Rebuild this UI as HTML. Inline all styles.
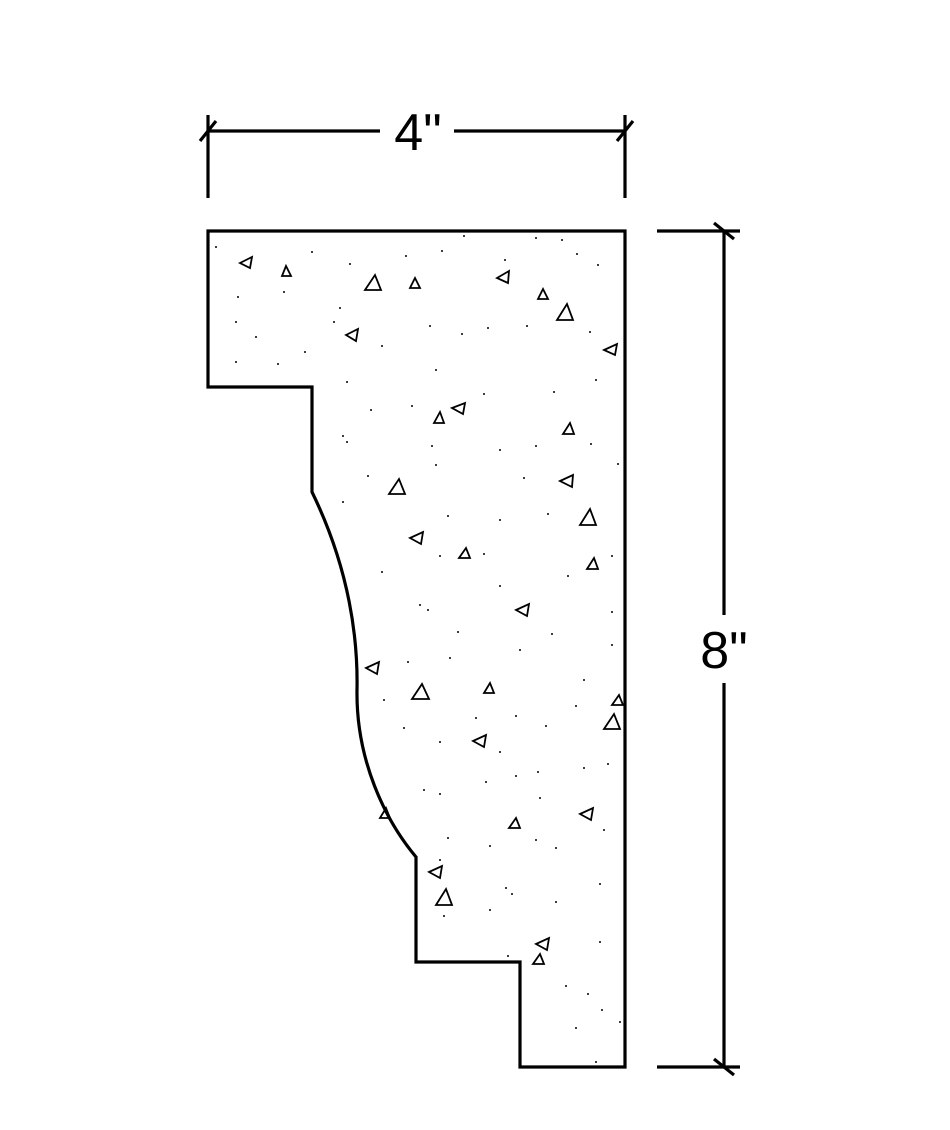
<!DOCTYPE html>
<html><head><meta charset="utf-8"><style>
html,body{margin:0;padding:0;background:#fff;}
svg{display:block}
</style></head><body>
<svg width="950" height="1130" viewBox="0 0 950 1130" xmlns="http://www.w3.org/2000/svg">
<g fill="none" stroke="#000" stroke-width="3.2" stroke-linejoin="miter">
<path d="M208,231 L625,231 L625,1067 L520,1067 L520,962 L416,962 L416,857 C385,820 356,760 357,690 C358,640 350,570 312,492 L312,387 L208,387 Z"/>
</g>
<g fill="none" stroke="#000" stroke-width="3.2">
<line x1="208" y1="131" x2="380" y2="131"/>
<line x1="454" y1="131" x2="625" y2="131"/>
<line x1="208" y1="115" x2="208" y2="198"/>
<line x1="625" y1="115" x2="625" y2="198"/>
<line x1="200" y1="141" x2="216" y2="121"/>
<line x1="617" y1="141" x2="633" y2="121"/>
<line x1="724" y1="231" x2="724" y2="615"/>
<line x1="724" y1="683" x2="724" y2="1067"/>
<line x1="657" y1="231" x2="740" y2="231"/>
<line x1="657" y1="1067" x2="740" y2="1067"/>
<line x1="714" y1="223" x2="734" y2="239"/>
<line x1="714" y1="1059" x2="734" y2="1075"/>
</g>
<text x="418" y="150" font-family="Liberation Sans, sans-serif" font-size="52" font-weight="300" text-anchor="middle">4"</text>
<text x="724" y="668" font-family="Liberation Sans, sans-serif" font-size="52" font-weight="300" text-anchor="middle">8"</text>
<g fill="none" stroke="#000" stroke-width="1.8" stroke-linejoin="miter">
<path d="M240,263 l12,-6 l-2,11 z"/>
<path d="M282,276 l9,0 l-5,-10 z"/>
<path d="M365,290 l16,0 l-6,-15 z"/>
<path d="M410,288 l10,0 l-5,-10 z"/>
<path d="M497,278 l12,-7 l-1,12 z"/>
<path d="M538,299 l10,0 l-5,-10 z"/>
<path d="M557,320 l16,0 l-6,-16 z"/>
<path d="M604,350 l13,-6 l-2,11 z"/>
<path d="M346,335 l12,-6 l-2,12 z"/>
<path d="M434,423 l10,0 l-4,-11 z"/>
<path d="M452,408 l13,-5 l-2,11 z"/>
<path d="M563,434 l11,0 l-4,-11 z"/>
<path d="M389,494 l16,0 l-6,-15 z"/>
<path d="M560,481 l13,-6 l-1,12 z"/>
<path d="M580,525 l16,0 l-6,-16 z"/>
<path d="M410,538 l13,-6 l-2,12 z"/>
<path d="M459,558 l11,0 l-4,-10 z"/>
<path d="M587,569 l11,0 l-4,-11 z"/>
<path d="M516,610 l13,-6 l-2,12 z"/>
<path d="M366,668 l13,-6 l-2,12 z"/>
<path d="M412,699 l17,0 l-7,-15 z"/>
<path d="M484,693 l10,0 l-4,-10 z"/>
<path d="M604,729 l16,0 l-6,-15 z"/>
<path d="M612,705 l11,0 l-4,-10 z"/>
<path d="M473,741 l13,-6 l-2,12 z"/>
<path d="M509,828 l11,0 l-4,-10 z"/>
<path d="M580,814 l13,-6 l-2,12 z"/>
<path d="M429,872 l13,-6 l-2,12 z"/>
<path d="M436,905 l16,0 l-6,-16 z"/>
<path d="M536,944 l13,-6 l-2,12 z"/>
<path d="M533,964 l11,0 l-4,-10 z"/>
<path d="M380,818 l10,0 l-4,-10 z"/>
</g>
<g fill="#000">
<circle cx="216" cy="247" r="1"/><circle cx="238" cy="297" r="1"/><circle cx="236" cy="322" r="1"/><circle cx="256" cy="337" r="1"/><circle cx="236" cy="362" r="1"/><circle cx="278" cy="364" r="1"/><circle cx="305" cy="352" r="1"/><circle cx="284" cy="292" r="1"/><circle cx="312" cy="252" r="1"/><circle cx="350" cy="264" r="1"/><circle cx="406" cy="256" r="1"/><circle cx="442" cy="251" r="1"/><circle cx="464" cy="236" r="1"/><circle cx="505" cy="260" r="1"/><circle cx="536" cy="238" r="1"/><circle cx="562" cy="240" r="1"/><circle cx="577" cy="254" r="1"/><circle cx="598" cy="265" r="1"/><circle cx="340" cy="308" r="1"/><circle cx="334" cy="322" r="1"/><circle cx="382" cy="346" r="1"/><circle cx="430" cy="326" r="1"/><circle cx="462" cy="334" r="1"/><circle cx="488" cy="328" r="1"/><circle cx="527" cy="326" r="1"/><circle cx="590" cy="332" r="1"/><circle cx="347" cy="382" r="1"/><circle cx="436" cy="370" r="1"/><circle cx="371" cy="410" r="1"/><circle cx="412" cy="406" r="1"/><circle cx="484" cy="394" r="1"/><circle cx="554" cy="392" r="1"/><circle cx="596" cy="380" r="1"/><circle cx="343" cy="436" r="1"/><circle cx="347" cy="442" r="1"/><circle cx="432" cy="446" r="1"/><circle cx="500" cy="450" r="1"/><circle cx="536" cy="446" r="1"/><circle cx="591" cy="444" r="1"/><circle cx="618" cy="464" r="1"/><circle cx="436" cy="465" r="1"/><circle cx="368" cy="476" r="1"/><circle cx="524" cy="478" r="1"/><circle cx="548" cy="514" r="1"/><circle cx="343" cy="502" r="1"/><circle cx="448" cy="516" r="1"/><circle cx="500" cy="520" r="1"/><circle cx="382" cy="572" r="1"/><circle cx="440" cy="556" r="1"/><circle cx="484" cy="554" r="1"/><circle cx="568" cy="576" r="1"/><circle cx="612" cy="556" r="1"/><circle cx="500" cy="586" r="1"/><circle cx="420" cy="605" r="1"/><circle cx="428" cy="610" r="1"/><circle cx="458" cy="632" r="1"/><circle cx="520" cy="650" r="1"/><circle cx="552" cy="634" r="1"/><circle cx="612" cy="612" r="1"/><circle cx="612" cy="645" r="1"/><circle cx="408" cy="662" r="1"/><circle cx="450" cy="658" r="1"/><circle cx="584" cy="680" r="1"/><circle cx="384" cy="700" r="1"/><circle cx="476" cy="718" r="1"/><circle cx="516" cy="716" r="1"/><circle cx="546" cy="726" r="1"/><circle cx="576" cy="706" r="1"/><circle cx="404" cy="728" r="1"/><circle cx="440" cy="742" r="1"/><circle cx="500" cy="752" r="1"/><circle cx="584" cy="768" r="1"/><circle cx="608" cy="764" r="1"/><circle cx="486" cy="782" r="1"/><circle cx="516" cy="776" r="1"/><circle cx="538" cy="772" r="1"/><circle cx="424" cy="790" r="1"/><circle cx="440" cy="794" r="1"/><circle cx="540" cy="798" r="1"/><circle cx="604" cy="830" r="1"/><circle cx="448" cy="838" r="1"/><circle cx="490" cy="846" r="1"/><circle cx="536" cy="840" r="1"/><circle cx="556" cy="848" r="1"/><circle cx="440" cy="860" r="1"/><circle cx="600" cy="884" r="1"/><circle cx="506" cy="888" r="1"/><circle cx="512" cy="894" r="1"/><circle cx="556" cy="902" r="1"/><circle cx="490" cy="910" r="1"/><circle cx="444" cy="916" r="1"/><circle cx="600" cy="942" r="1"/><circle cx="508" cy="956" r="1"/><circle cx="566" cy="986" r="1"/><circle cx="588" cy="994" r="1"/><circle cx="602" cy="1010" r="1"/><circle cx="620" cy="1022" r="1"/><circle cx="576" cy="1028" r="1"/><circle cx="596" cy="1062" r="1"/>
</g>
</svg>
</body></html>
